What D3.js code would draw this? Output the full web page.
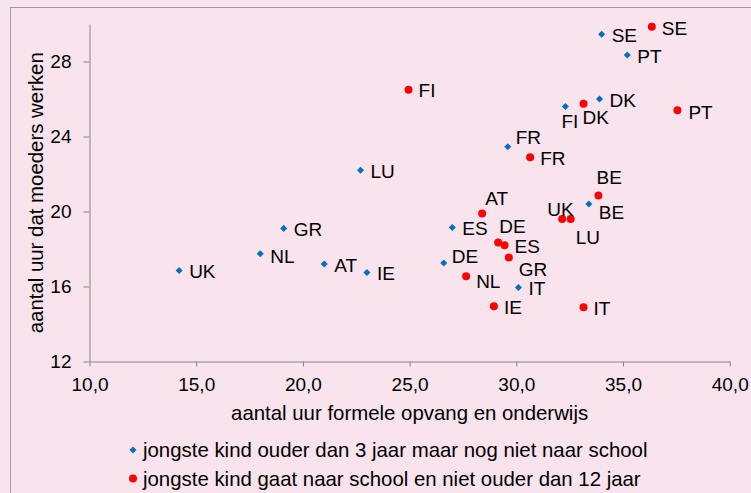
<!DOCTYPE html>
<html>
<head>
<meta charset="utf-8">
<script src="https://cdn.jsdelivr.net/npm/d3@7"></script>
<style>
  body { margin: 0; background: #f9e3ec; }
  svg { display: block; font-family: "Liberation Sans", Arial, sans-serif; }
  .axis path, .axis line { stroke: #868686; }
  .axis text { fill: #000; font-size: 19px; }
</style>
</head>
<body>
<div id="chart"></div>
<script>
/* DATA */
const countries = ["SE", "PT", "DK", "FI", "FR", "LU", "BE", "ES", "DE", "IT", "GR", "NL", "UK", "AT", "IE"];

// jongste kind ouder dan 3 jaar maar nog niet naar school
const opvangOuder3 = [34.0, 35.2, 33.9, 32.3, 29.6, 22.7, 33.4, 27.0, 26.6, 30.1, 19.1, 18.0, 14.2, 21.0, 23.0];
const werkenOuder3 = [29.45, 28.35, 26.0, 25.6, 23.45, 22.2, 20.4, 19.15, 17.25, 15.95, 19.1, 17.75, 16.85, 17.2, 16.75];

// jongste kind gaat naar school en niet ouder dan 12 jaar
const opvangSchool = [36.35, 37.55, 33.15, 24.95, 30.65, 32.55, 33.85, 29.45, 29.15, 33.15, 29.65, 27.65, 32.15, 28.4, 28.95];
const werkenSchool = [29.85, 25.4, 25.75, 26.5, 22.9, 19.6, 20.85, 18.2, 18.35, 14.9, 17.55, 16.55, 19.6, 19.9, 14.95];

const xTicks = [10, 15, 20, 25, 30, 35, 40];
const yTicks = [12, 16, 20, 24, 28];

const seriesNames = [
  "jongste kind ouder dan 3 jaar maar nog niet naar school",
  "jongste kind gaat naar school en niet ouder dan 12 jaar"
];

// label nudges (px) where the label was moved away from the default right side
const labelNudge = {
  "0-FI": [-4, 15], "0-FR": [8, -10], "0-BE": [10, 8], "0-DE": [8, -7], "0-NL": [10, 2],
  "1-DK": [-1, 13], "1-BE": [-2, -18], "1-AT": [3, -15], "1-UK": [-15, -10],
  "1-LU": [5, 18], "1-DE": [1, -16], "1-GR": [10, 12], "1-NL": [10, 5], "1-PT": [11, 2]
};

const width = 751, height = 493;
const margin = { top: 24, left: 89.5, right: 21.3, bottom: 131.5 };
const blue = "#0070c0", red = "#ff0000";

const series = [
  countries.map((c, i) => ({ c, x: opvangOuder3[i], y: werkenOuder3[i] })),
  countries.map((c, i) => ({ c, x: opvangSchool[i], y: werkenSchool[i] }))
];

const svg = d3.select("#chart").append("svg")
  .attr("width", width)
  .attr("height", height);

// chart area border (only left/top visible in the crop)
svg.append("rect")
  .attr("x", 10.5).attr("y", 7.5)
  .attr("width", 800).attr("height", 600)
  .attr("fill", "#f9e3ec")
  .attr("stroke", "#9c9c9c");

const xScale = d3.scaleLinear().domain([10, 40]).range([margin.left, width - margin.right]);
const yScale = d3.scaleLinear().domain([12, 30]).range([height - margin.bottom, margin.top]);

const fmt = d => d3.format(".1f")(d).replace(".", ",");

svg.append("g")
  .attr("class", "axis x-axis")
  .attr("transform", `translate(0,${yScale(12)})`)
  .call(d3.axisBottom(xScale).tickValues(xTicks).tickFormat(fmt).tickSize(5).tickSizeOuter(0).tickPadding(11))
  .call(g => g.selectAll("text").attr("font-family", null));

svg.append("g")
  .attr("class", "axis y-axis")
  .attr("transform", `translate(${xScale(10)},0)`)
  .call(d3.axisLeft(yScale).tickValues(yTicks).tickSize(6).tickSizeOuter(0).tickPadding(12))
  .call(g => g.selectAll("text").attr("font-family", null));

// axis titles
svg.append("text")
  .attr("x", (xScale(10) + xScale(40)) / 2)
  .attr("y", 420)
  .attr("text-anchor", "middle")
  .attr("font-size", "20.4px")
  .text("aantal uur formele opvang en onderwijs");

svg.append("text")
  .attr("transform", `translate(43,${(yScale(12) + yScale(30)) / 2 + 0}) rotate(-90)`)
  .attr("text-anchor", "middle")
  .attr("font-size", "20.4px")
  .text("aantal uur dat moeders werken");

const diamond = d3.symbol(d3.symbolSquare, 25);

// series 0: diamonds
svg.append("g").selectAll("path")
  .data(series[0])
  .join("path")
  .attr("d", diamond)
  .attr("transform", d => `translate(${xScale(d.x)},${yScale(d.y)}) rotate(45)`)
  .attr("fill", blue);

// series 1: circles
svg.append("g").selectAll("circle")
  .data(series[1])
  .join("circle")
  .attr("cx", d => xScale(d.x))
  .attr("cy", d => yScale(d.y))
  .attr("r", 4)
  .attr("fill", red);

// data labels
series.forEach((s, si) => {
  svg.append("g").selectAll("text")
    .data(s)
    .join("text")
    .attr("x", d => xScale(d.x) + (labelNudge[`${si}-${d.c}`] || [10, 1])[0])
    .attr("y", d => yScale(d.y) + (labelNudge[`${si}-${d.c}`] || [10, 1])[1])
    .attr("dy", "0.36em")
    .attr("font-size", "19px")
    .text(d => d.c);
});

// legend
const legend = svg.append("g");
seriesNames.forEach((name, i) => {
  const ly = 450 + i * 28.5;
  if (i === 0) {
    legend.append("path")
      .attr("d", diamond)
      .attr("transform", `translate(133,${ly}) rotate(45)`)
      .attr("fill", blue);
  } else {
    legend.append("circle")
      .attr("cx", 133).attr("cy", ly).attr("r", 4)
      .attr("fill", red);
  }
  legend.append("text")
    .attr("x", 143)
    .attr("y", ly)
    .attr("dy", "0.36em")
    .attr("font-size", "20.4px")
    .text(name);
});
</script>
</body>
</html>
